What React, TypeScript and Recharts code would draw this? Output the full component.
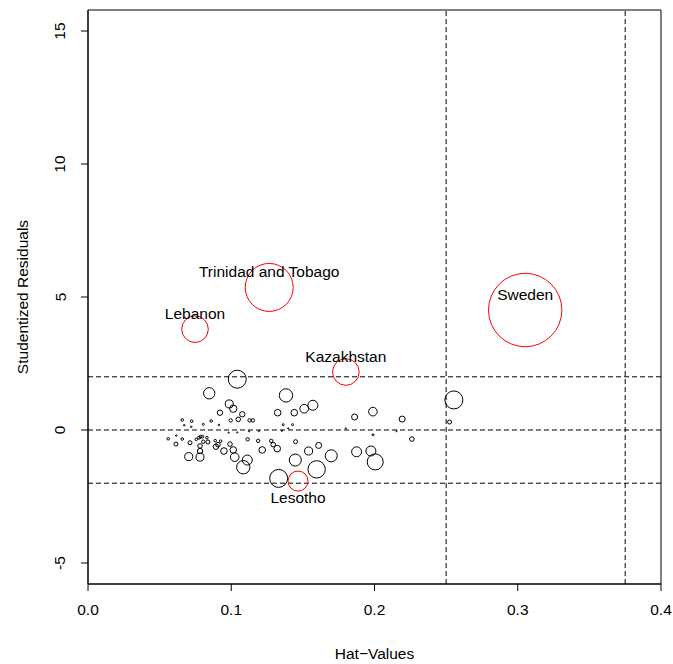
import React from "react";
import {
  ScatterChart,
  Scatter,
  XAxis,
  YAxis,
  ZAxis,
  ReferenceLine,
  ReferenceArea,
} from "recharts";

const FONT = "'Liberation Sans', Arial, Helvetica, sans-serif";

// ordinary countries: hat value, studentized residual, Cook's distance
const hatValues = [
  0.1042, 0.0846, 0.1382, 0.0986, 0.1014, 0.0921, 0.1077, 0.1049, 0.0996, 0.1128,
  0.1151, 0.1324, 0.144, 0.1509, 0.157, 0.0658, 0.0724, 0.086, 0.0805, 0.0672,
  0.0721, 0.0914, 0.1363, 0.1428, 0.1398, 0.1354, 0.0982, 0.1042, 0.1124, 0.1193,
  0.056, 0.0616, 0.0658, 0.0614, 0.0712, 0.0756, 0.0775, 0.0786, 0.0798, 0.0805,
  0.083, 0.0837, 0.0782, 0.0782, 0.0703, 0.0782, 0.0888, 0.0926, 0.0893, 0.0907,
  0.0949, 0.0991, 0.1014, 0.1024, 0.1114, 0.1188, 0.1216, 0.1279, 0.1293, 0.1321,
  0.1449, 0.1112, 0.1084, 0.154, 0.1447, 0.161, 0.1596, 0.1331, 0.2554, 0.1861,
  0.1989, 0.2193, 0.2524, 0.18, 0.1989, 0.2154, 0.2261, 0.1698, 0.1875, 0.1975,
  0.2005,
];
const studResiduals = [
  1.91, 1.38, 1.3, 0.98, 0.8, 0.65, 0.59, 0.4, 0.36, 0.36,
  0.36, 0.65, 0.65, 0.8, 0.93, 0.38, 0.33, 0.34, 0.21, 0.18,
  0.12, 0.19, 0.2, 0.2, 0.06, -0.03, -0.1, -0.09, -0.05, -0.04,
  -0.33, -0.21, -0.34, -0.53, -0.48, -0.35, -0.29, -0.25, -0.25, -0.44,
  -0.29, -0.45, -0.6, -0.79, -1.0, -1.02, -0.4, -0.42, -0.63, -0.55,
  -0.79, -0.53, -0.75, -1.02, -0.35, -0.41, -0.75, -0.41, -0.55, -0.7,
  -0.44, -1.13, -1.4, -0.79, -1.13, -0.58, -1.48, -1.82, 1.13, 0.49,
  0.69, 0.41, 0.3, 0.06, -0.18, -0.04, -0.34, -0.97, -0.82, -0.79,
  -1.2,
];
const cookDistances = [
  0.078, 0.031, 0.043, 0.0155, 0.013, 0.007, 0.007, 0.0051, 0.0028, 0.0028,
  0.0028, 0.0105, 0.0105, 0.018, 0.024, 0.0016, 0.0016, 0.0016, 0.001, 0.0006,
  0.0006, 0.0006, 0.001, 0.001, 0.0004, 0.0004, 0.0004, 0.0004, 0.0004, 0.0004,
  0.0016, 0.0006, 0.0016, 0.0039, 0.0039, 0.0016, 0.002, 0.002, 0.002, 0.0028,
  0.0016, 0.0039, 0.0051, 0.007, 0.0155, 0.0155, 0.0016, 0.0016, 0.007, 0.0051,
  0.0105, 0.0051, 0.0105, 0.018, 0.0028, 0.0028, 0.0105, 0.0028, 0.0051, 0.0105,
  0.0039, 0.024, 0.043, 0.0155, 0.035, 0.0087, 0.073, 0.078, 0.078, 0.0087,
  0.018, 0.0087, 0.0039, 0.0004, 0.001, 0.0004, 0.0051, 0.035, 0.024, 0.024,
  0.062,
];

// flagged (labelled) countries
const flaggedNames = ["Trinidad and Tobago", "Lebanon", "Kazakhstan", "Sweden", "Lesotho"];
const flaggedHat = [0.1265, 0.0747, 0.18, 0.3052, 0.1466];
const flaggedResid = [5.36, 3.79, 2.18, 4.51, -1.92];
const flaggedCook = [0.556, 0.171, 0.171, 1.3, 0.0965];

const xTicks = [0, 0.1, 0.2, 0.3, 0.4];
const yTicks = [-5, 0, 5, 10, 15];
const residCutoffs = [-2, 0, 2];
const hatCutoffs = [0.25, 0.375];

const X_DOMAIN = [0, 0.4];
const Y_DOMAIN = [-5.79, 15.79];

const points = hatValues.map((h, i) => ({ hat: h, resid: studResiduals[i], cook: cookDistances[i] }));
const flagged = flaggedNames.map((name, i) => ({
  name,
  hat: flaggedHat[i],
  resid: flaggedResid[i],
  cook: flaggedCook[i],
}));

const radiusOf = (p: any) =>
  p.size != null ? Math.sqrt(Math.max(p.size, 0) / Math.PI) : (p.width || 0) / 2;

const PlainBubble = (p: any) => (
  <circle cx={p.cx} cy={p.cy} r={radiusOf(p)} fill="none" stroke="#000" strokeWidth={1} />
);

const RedBubble = (p: any) => {
  const up = p.payload.resid > 0;
  return (
    <g>
      <circle cx={p.cx} cy={p.cy} r={radiusOf(p)} fill="none" stroke="#ff0000" strokeWidth={1} />
      <text
        x={p.cx}
        y={p.cy + (up ? -15.5 : 16)}
        textAnchor="middle"
        dominantBaseline="central"
        fontSize={15.5}
        fontFamily={FONT}
        fill="#000"
      >
        {p.payload.name}
      </text>
    </g>
  );
};

const XTick = ({ x, y, payload }: any) => (
  <text x={x} y={y + 18} textAnchor="middle" dominantBaseline="central" fontSize={15.5} fontFamily={FONT} fill="#000">
    {payload.value.toFixed(1)}
  </text>
);

const YTick = ({ x, y, payload }: any) => (
  <text
    x={x - 21}
    y={y}
    transform={`rotate(-90, ${x - 21}, ${y})`}
    textAnchor="middle"
    dominantBaseline="central"
    fontSize={15.5}
    fontFamily={FONT}
    fill="#000"
  >
    {payload.value}
  </text>
);

const XTitle = ({ viewBox }: any) => (
  <text
    x={viewBox.x + viewBox.width / 2}
    y={viewBox.y + 69}
    textAnchor="middle"
    dominantBaseline="central"
    fontSize={15.5}
    fontFamily={FONT}
    fill="#000"
  >
    Hat−Values
  </text>
);

const YTitle = ({ viewBox }: any) => {
  const cx = 22;
  const cy = viewBox.y + viewBox.height / 2;
  return (
    <text
      x={cx}
      y={cy}
      transform={`rotate(-90, ${cx}, ${cy})`}
      textAnchor="middle"
      dominantBaseline="central"
      fontSize={15.5}
      fontFamily={FONT}
      fill="#000"
    >
      Studentized Residuals
    </text>
  );
};

export default function App() {
  return (
    <div style={{ position: "absolute", left: 0, top: 0, background: "#fff" }}>
      <ScatterChart width={673} height={664} margin={{ top: 10, right: 12, bottom: 0, left: 0 }}>
        <XAxis
          type="number"
          dataKey="hat"
          domain={X_DOMAIN}
          ticks={xTicks}
          allowDataOverflow
          height={80}
          tickSize={7}
          tickMargin={0}
          tick={<XTick />}
          stroke="#000"
          label={<XTitle />}
        />
        <YAxis
          type="number"
          dataKey="resid"
          domain={Y_DOMAIN}
          ticks={yTicks}
          allowDataOverflow
          width={88}
          tickSize={7}
          tickMargin={0}
          tick={<YTick />}
          stroke="#000"
          label={<YTitle />}
        />
        <ZAxis type="number" dataKey="cook" domain={[0, 1.3]} range={[0, Math.PI * 36.7 * 36.7]} />
        {residCutoffs.map((v) => (
          <ReferenceLine key={`h${v}`} y={v} stroke="#000" strokeDasharray="5 3" strokeWidth={1} />
        ))}
        {hatCutoffs.map((v) => (
          <ReferenceLine key={`v${v}`} x={v} stroke="#000" strokeDasharray="5 3" strokeWidth={1} />
        ))}
        <ReferenceArea
          x1={X_DOMAIN[0]}
          x2={X_DOMAIN[1]}
          y1={Y_DOMAIN[0]}
          y2={Y_DOMAIN[1]}
          fill="none"
          fillOpacity={0}
          stroke="#000"
          strokeWidth={1}
        />
        <Scatter data={points} shape={PlainBubble} isAnimationActive={false} />
        <Scatter data={flagged} shape={RedBubble} isAnimationActive={false} />
      </ScatterChart>
    </div>
  );
}
